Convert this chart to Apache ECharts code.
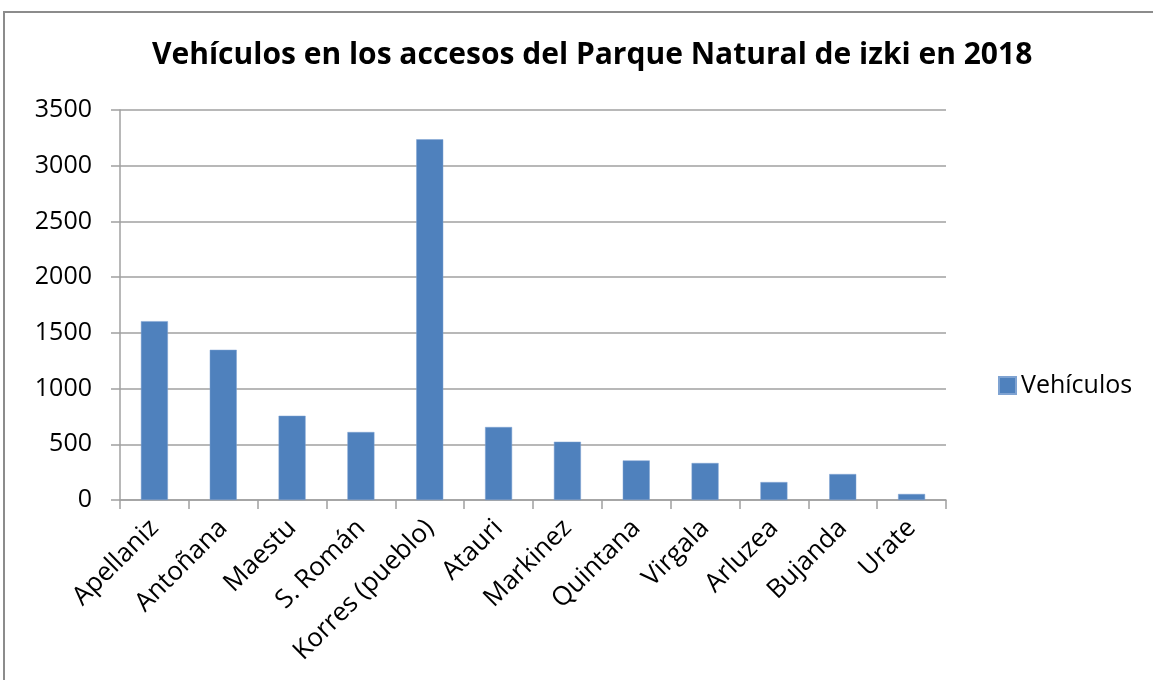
<!DOCTYPE html>
<html><head><meta charset="utf-8">
<script src="https://cdn.jsdelivr.net/npm/echarts@6/dist/echarts.min.js"></script>
<style>html,body{margin:0;padding:0;background:#fff;}#c{width:1153px;height:680px;}</style>
</head><body><div id="c"></div>
<script>
const categories = ["Apellaniz","Antoñana","Maestu","S. Román","Korres (pueblo)","Atauri","Markinez","Quintana","Virgala","Arluzea","Bujanda","Urate"];
const vehiculos = [1605,1348,756,610,3237,655,523,355,332,161,233,54];
const seriesName = "Vehículos";
const titleText = "Vehículos en los accesos del Parque Natural de izki en 2018";

const chart = echarts.init(document.getElementById('c'));
chart.setOption({
  animation:false,
  backgroundColor:'#ffffff',
  graphic:[{type:'rect',shape:{x:4,y:12,width:1300,height:800},style:{fill:'none',stroke:'#8c8c8c',lineWidth:2},silent:true}],
  title:{text:titleText,left:147,top:35,
    textStyle:{fontFamily:'Open Sans',fontWeight:'bold',fontSize:30,color:'#000'}},
  legend:{data:[seriesName],left:993,top:368,orient:'vertical',itemWidth:17,itemHeight:17,itemGap:8,
    icon:'rect',textStyle:{fontFamily:'Open Sans',fontSize:25,color:'#000'}},
  grid:{left:120,right:207,top:110,bottom:180,containLabel:false},
  xAxis:{type:'category',data:categories,
    axisLine:{lineStyle:{color:'#a0a0a0',width:1.5}},
    axisTick:{show:true,length:9,lineStyle:{color:'#a0a0a0',width:1.5}},
    axisLabel:{rotate:45,interval:0,margin:24,fontFamily:'Open Sans',fontSize:26,color:'#000'}},
  yAxis:{type:'value',min:0,max:3500,interval:500,
    axisLine:{show:true,lineStyle:{color:'#a0a0a0',width:1.5}},
    axisTick:{show:true,length:9,lineStyle:{color:'#a0a0a0',width:1.5}},
    splitLine:{lineStyle:{color:'#a0a0a0',width:1.5}},
    axisLabel:{margin:28,fontFamily:'Open Sans',fontSize:25,color:'#000',formatter:function(v){return String(v);}}},
  series:[{name:seriesName,type:'bar',data:vehiculos,barWidth:27,
    itemStyle:{color:'#4F81BD',borderColor:'#7fa3d2',borderWidth:0.5}}]
});
</script></body></html>
